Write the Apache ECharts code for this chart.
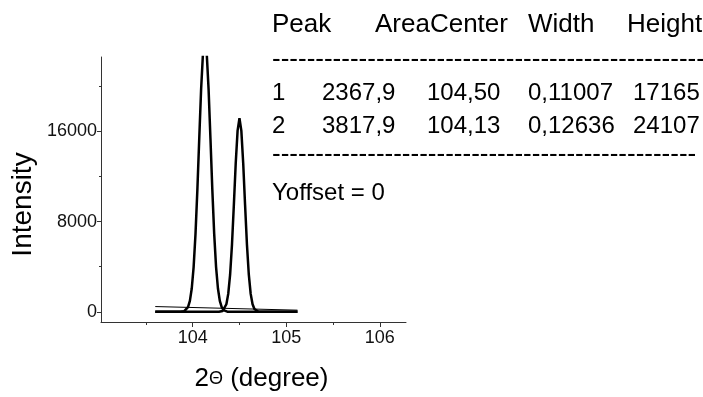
<!DOCTYPE html>
<html lang="en">
<head>
    <meta charset="UTF-8">
    <title>Peak fit</title>
    <script src="https://cdn.jsdelivr.net/npm/echarts@6/dist/echarts.min.js"></script>
    <style>
        * { margin: 0; padding: 0; }
        body { background: #ffffff; }
        #chart { width: 703px; height: 397px; }
    </style>
</head>
<body>
    <div id="chart"></div>
    <script>
        // fitted peak 1 (centre 104,13)
        var peak1X = [103.60, 103.87, 103.89, 103.91, 103.93, 103.95, 103.97, 103.99, 104.01, 104.03, 104.05, 104.07, 104.09, 104.11, 104.13,
                      104.15, 104.17, 104.19, 104.21, 104.23, 104.25, 104.27, 104.29, 104.31, 104.33, 104.35, 104.37, 104.39, 105.12];
        var peak1Y = [0, 5, 18, 56, 161, 417, 976, 2071, 3970, 6890, 10815, 15357, 19729, 22928, 24107,
                      22928, 19729, 15357, 10815, 6890, 3970, 2071, 976, 417, 161, 56, 18, 5, 0];
        // fitted peak 2 (centre 104,50)
        var peak2X = [103.60, 104.28, 104.30, 104.32, 104.34, 104.36, 104.38, 104.40, 104.42, 104.44, 104.46, 104.48, 104.50,
                      104.52, 104.54, 104.56, 104.58, 104.60, 104.62, 104.64, 104.66, 104.68, 104.70, 104.72, 105.12];
        var peak2Y = [0, 6, 23, 82, 251, 675, 1593, 3294, 5968, 9475, 13181, 16068, 17165,
                      16068, 13181, 9475, 5968, 3294, 1593, 675, 251, 82, 23, 6, 0];
        // thin background line
        var baseX = [103.60, 105.12];
        var baseY = [470, 150];

        var yMajorTicks = [0, 8000, 16000];
        var yMinorTicks = [4000, 12000, 20000];
        var xMajorTicks = [104, 105, 106];
        var xMinorTicks = [103.5, 104.5, 105.5];

        var tableHeader = ['Peak', 'AreaCenter', 'Width', 'Height'];
        var tableRows = [
            ['1', '2367,9', '104,50', '0,11007', '17165'],
            ['2', '3817,9', '104,13', '0,12636', '24107']
        ];
        var offsetText = 'Yoffset = 0';

        function pairs(xs, ys) {
            return xs.map(function (x, i) { return [x, ys[i]]; });
        }

        var font = '"Liberation Sans", Arial, sans-serif';
        var chart = echarts.init(document.getElementById('chart'));

        // table text
        var graphics = [];
        function txt(s, x, y, size) {
            graphics.push({
                type: 'text', left: x, top: y - Math.round(size * 0.6),
                style: { text: s, font: size + 'px ' + font, fill: '#000' }
            });
        }
        var headX = [272, 375, 528, 627];
        tableHeader.forEach(function (h, i) { txt(h, headX[i], 28, 26); });
        var rowX = [272, 322, 427, 528, 633];
        tableRows.forEach(function (r, j) {
            r.forEach(function (c, i) { txt(c, rowX[i], 95 + j * 33, 24); });
        });
        txt(new Array(52).join('-'), 272, 63, 26);
        txt(new Array(50).join('-'), 272, 158, 26);
        txt(offsetText, 272, 195, 24);

        chart.setOption({
            animation: false,
            grid: { left: 101, top: 57, right: 297, bottom: 75 },
            xAxis: [{
                type: 'value', min: 103.02, max: 106.28,
                name: '2{t|Θ} (degree)', nameLocation: 'middle', nameGap: 44,
                nameTextStyle: {
                    fontFamily: font, fontSize: 26, color: '#000', padding: [0, 0, 0, 16],
                    rich: { t: { fontFamily: font, fontSize: 18, color: '#000' } }
                },
                splitLine: { show: false },
                axisLine: { onZero: false, lineStyle: { color: '#333', width: 1 } },
                axisTick: { customValues: xMajorTicks, length: 5, lineStyle: { color: '#333' } },
                axisLabel: { customValues: xMajorTicks, margin: 7, fontFamily: font, fontSize: 18, color: '#111' }
            }, {
                type: 'value', min: 103.02, max: 106.28, position: 'bottom',
                splitLine: { show: false },
                axisLine: { show: false, onZero: false },
                axisTick: { customValues: xMinorTicks, length: 3, lineStyle: { color: '#333' } },
                axisLabel: { show: false }
            }],
            yAxis: [{
                type: 'value', min: -900, max: 22600,
                name: 'Intensity', nameLocation: 'middle', nameGap: 64,
                nameTextStyle: { fontFamily: font, fontSize: 28, color: '#000', padding: [0, 30, 0, 0] },
                splitLine: { show: false },
                axisLine: { onZero: false, lineStyle: { color: '#333', width: 1 } },
                axisTick: { customValues: yMajorTicks, length: 4, lineStyle: { color: '#333' } },
                axisLabel: {
                    customValues: yMajorTicks, margin: 4, fontFamily: font, fontSize: 18, color: '#111',
                    formatter: function (v) { return String(v); }
                }
            }, {
                type: 'value', min: -900, max: 22600, position: 'left',
                splitLine: { show: false },
                axisLine: { show: false, onZero: false },
                axisTick: { customValues: yMinorTicks, length: 2, lineStyle: { color: '#333' } },
                axisLabel: { show: false }
            }],
            series: [{
                type: 'line', data: pairs(baseX, baseY), symbol: 'none',
                lineStyle: { color: '#000', width: 1 }
            }, {
                type: 'line', data: pairs(peak1X, peak1Y), symbol: 'none',
                lineStyle: { color: '#000', width: 2.5 }
            }, {
                type: 'line', data: pairs(peak2X, peak2Y), symbol: 'none',
                lineStyle: { color: '#000', width: 2.5 }
            }],
            graphic: graphics
        });
    </script>
</body>
</html>
